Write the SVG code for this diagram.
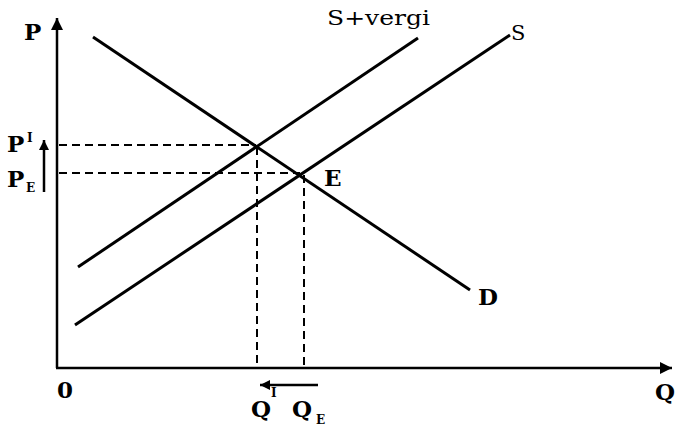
<svg xmlns="http://www.w3.org/2000/svg" width="678" height="427" viewBox="0 0 678 427">
<defs>
<marker id="ahs" viewBox="0 0 10 10" refX="10" refY="5" markerWidth="16" markerHeight="10" markerUnits="userSpaceOnUse" orient="auto"><path d="M0,0 L10,5 L0,10 Z" fill="#000"/></marker>
<marker id="axh" viewBox="0 0 10 10" refX="10" refY="5" markerWidth="18" markerHeight="12" markerUnits="userSpaceOnUse" orient="auto"><path d="M0,0 L10,5 L0,10 Z" fill="#000"/></marker>
</defs>
<style>
.t{font-family:"DejaVu Serif","Liberation Serif",serif;font-weight:bold;font-size:23px;fill:#000}
.n{font-family:"DejaVu Serif","Liberation Serif",serif;font-size:21px;fill:#000}
.s{font-family:"DejaVu Serif","Liberation Serif",serif;font-size:12px;font-weight:bold;fill:#000}
.ln{stroke:#000;stroke-width:3;fill:none}
.ax{stroke:#000;stroke-width:2.5;fill:none}
.da{stroke:#000;stroke-width:2;fill:none;stroke-dasharray:8,5}
</style>
<rect width="678" height="427" fill="#fff"/>
<g id="connectors">
<line class="ax" x1="57" y1="368" x2="57" y2="18" marker-end="url(#axh)"/>
<line class="ax" x1="56" y1="368" x2="672" y2="368" marker-end="url(#axh)"/>
<line class="da" x1="59" y1="145" x2="256" y2="145"/>
<line class="da" x1="59" y1="173" x2="300" y2="173"/>
<line class="da" x1="257" y1="147" x2="257" y2="366"/>
<line class="da" x1="304" y1="175" x2="304" y2="366"/>
<line class="ax" x1="44" y1="192" x2="44" y2="140" marker-end="url(#ahs)"/>
<line class="ax" x1="318" y1="385" x2="260" y2="385" marker-end="url(#ahs)"/>
</g>
<g id="D"><line class="ln" x1="93" y1="37" x2="470" y2="290"/><text class="t" x="478" y="305">D</text></g>
<g id="S"><line class="ln" x1="75" y1="325" x2="510" y2="35"/><text class="n" x="511" y="40">S</text></g>
<g id="Svergi"><line class="ln" x1="78" y1="267" x2="418" y2="38"/><text class="n" x="327" y="25" textLength="103" lengthAdjust="spacingAndGlyphs">S+vergi</text></g>
<g id="E"><text class="t" x="324" y="186">E</text></g>
<g id="labels">
<text class="t" x="24" y="40">P</text>
<text class="t" x="7" y="152">P</text><text class="s" x="27" y="142">I</text>
<text class="t" x="7" y="187">P</text><text class="s" x="26" y="192">E</text>
<text class="t" x="57" y="398">0</text>
<text class="t" x="655" y="400">Q</text>
<text class="t" x="251" y="417">Q</text><text class="s" x="271" y="397">I</text>
<text class="t" x="292" y="417">Q</text><text class="s" x="316" y="424">E</text>
</g>
</svg>
